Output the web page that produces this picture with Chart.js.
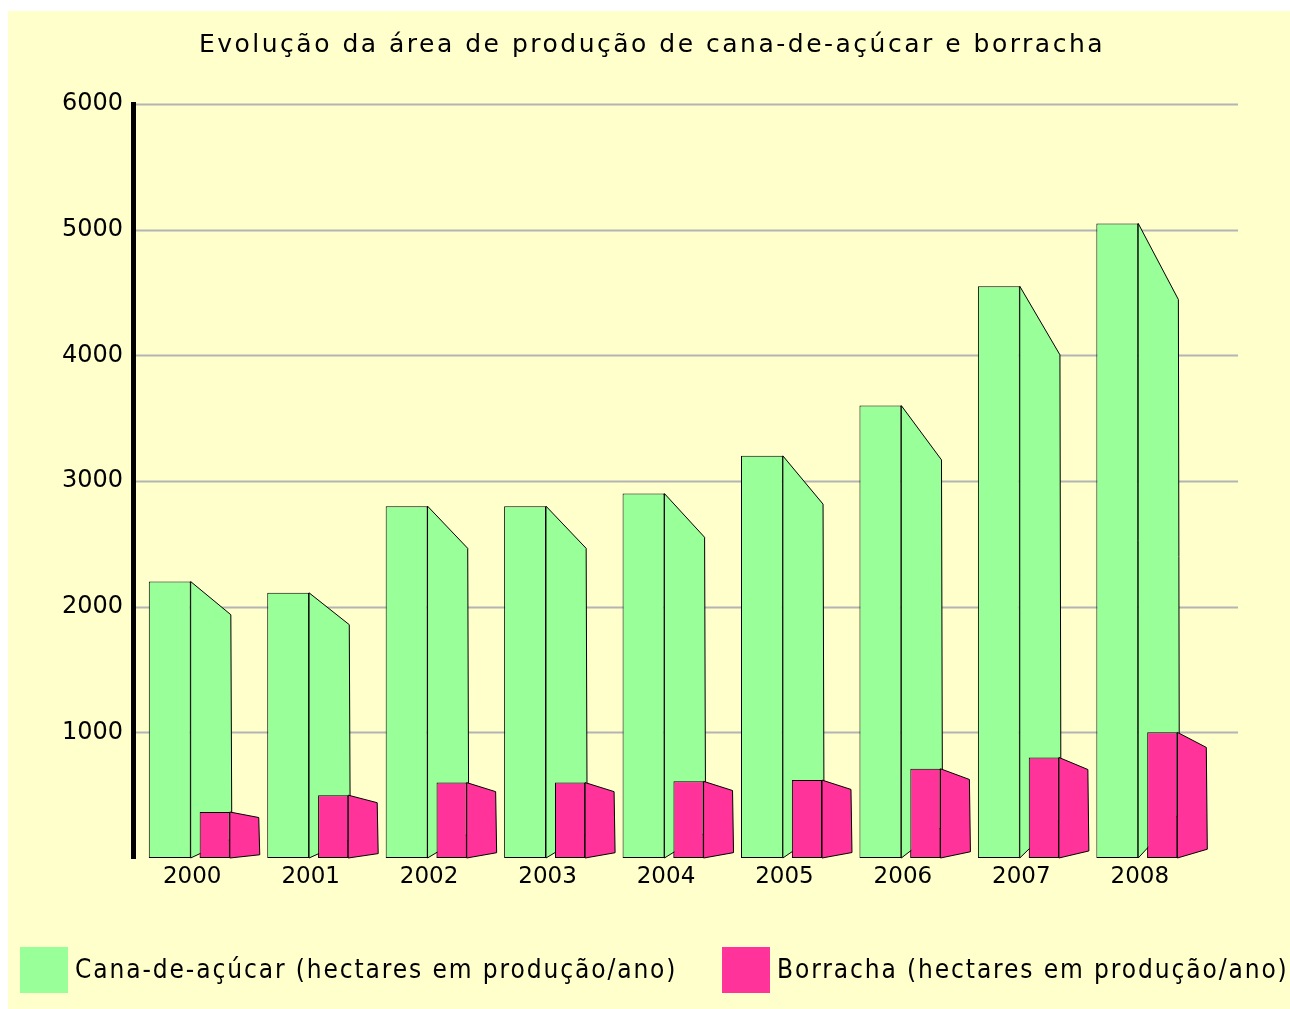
<!DOCTYPE html>
<html>
<head>
<meta charset="utf-8">
<script src="https://cdn.jsdelivr.net/npm/chart.js@4/dist/chart.umd.min.js"></script>
<style>
  body { margin: 0; background: #fff; }
  canvas { display: block; }
</style>
</head>
<body>
<canvas id="chart" width="1290" height="1009"></canvas>
<script>
const years = ['2000', '2001', '2002', '2003', '2004', '2005', '2006', '2007', '2008'];
const cana = [2200, 2110, 2800, 2800, 2900, 3200, 3600, 4550, 5050];
const borracha = [366, 500, 600, 600, 610, 620, 710, 800, 1000];
const yTicks = [0, 1000, 2000, 3000, 4000, 5000, 6000];

const titleText = 'Evolução da área de produção de cana-de-açúcar e borracha';
const canaLabel = 'Cana-de-açúcar (hectares em produção/ano)';
const borrachaLabel = 'Borracha (hectares em produção/ano)';

const GREEN = '#99FF99';
const PINK = '#FF3399';

function drawSides(ctx, meta, color) {
    ctx.save();
    ctx.fillStyle = color;
    ctx.strokeStyle = '#000';
    ctx.lineWidth = 1;
    ctx.lineJoin = 'round';
    meta.data.forEach(bar => {
        const p = bar.getProps(['x', 'y', 'base', 'width'], true);
        const h = p.base - p.y;
        const x0 = p.x + p.width / 2;
        const x1 = x0 + p.width * 0.96;
        ctx.beginPath();
        ctx.moveTo(x0, p.y);
        ctx.lineTo(x1, p.y + h * 0.12);
        ctx.lineTo(x1 + 1, p.base - h * 0.07);
        ctx.lineTo(x0, p.base);
        ctx.closePath();
        ctx.fill();
        ctx.stroke();
    });
    ctx.restore();
}

// yellow panel, grid lines, title, legend and the fake 3d sides
const decor = {
    id: 'decor',
    beforeDraw(chart) {
        const ctx = chart.ctx;
        ctx.save();
        ctx.fillStyle = '#FFFFCC';
        ctx.fillRect(8, 11, chart.width - 8, chart.height - 11);

        const y = chart.scales.y;
        ctx.strokeStyle = '#B4B4B4';
        ctx.lineWidth = 2;
        yTicks.forEach(v => {
            if (v === 0) return;
            const py = Math.round(y.getPixelForValue(v)) + 0.5;
            ctx.beginPath();
            ctx.moveTo(chart.chartArea.left, py);
            ctx.lineTo(1238, py);
            ctx.stroke();
        });

        ctx.fillStyle = '#000';
        ctx.font = '25px "DejaVu Sans"';
        ctx.letterSpacing = '2.5px';
        ctx.textAlign = 'center';
        ctx.textBaseline = 'middle';
        ctx.fillText(titleText, 652, 45);

        // legend
        ctx.textAlign = 'left';
        ctx.font = '26px "DejaVu Sans Condensed", "DejaVu Sans"';
        ctx.letterSpacing = '1.9px';
        const xs = [20, 722];
        chart.data.datasets.forEach((ds, i) => {
            ctx.fillStyle = ds.backgroundColor;
            ctx.fillRect(xs[i], 947, 48, 46);
            ctx.fillStyle = '#000';
            ctx.fillText(ds.label, xs[i] + 55, 971);
        });
        ctx.letterSpacing = '0px';
        ctx.restore();
    },
    afterDatasetsDraw(chart) {
        const ctx = chart.ctx;
        const greenMeta = chart.getDatasetMeta(0);
        const pinkMeta = chart.getDatasetMeta(1);
        drawSides(ctx, greenMeta, GREEN);
        // pink fronts sit in front of the green sides
        pinkMeta.data.forEach(bar => bar.draw(ctx));
        drawSides(ctx, pinkMeta, PINK);
    }
};

new Chart(document.getElementById('chart'), {
    type: 'bar',
    data: {
        labels: years,
        datasets: [{
            label: canaLabel,
            data: cana,
            backgroundColor: GREEN,
            borderColor: '#000',
            borderWidth: 1,
            borderSkipped: false,
            barPercentage: 0.93,
            categoryPercentage: 0.76
        }, {
            label: borrachaLabel,
            data: borracha,
            backgroundColor: PINK,
            borderColor: '#000',
            borderWidth: 1,
            borderSkipped: false,
            barPercentage: 0.67,
            categoryPercentage: 0.76
        }]
    },
    options: {
        responsive: false,
        animation: false,
        layout: {
            padding: { left: 8, right: 91, top: 104, bottom: 111 }
        },
        plugins: {
            legend: { display: false },
            title: { display: false },
            tooltip: { enabled: false }
        },
        scales: {
            x: {
                grid: { display: false, drawTicks: false },
                border: { display: false },
                ticks: {
                    color: '#000',
                    padding: 5,
                    font: { family: '"DejaVu Sans"', size: 23 }
                },
                afterFit: s => { s.height = 40; }
            },
            y: {
                min: 0,
                max: 6000,
                afterBuildTicks: s => { s.ticks = yTicks.map(v => ({ value: v })); },
                grid: { display: false, drawTicks: false },
                border: { display: true, color: '#000', width: 5 },
                ticks: {
                    color: '#000',
                    padding: 10,
                    font: { family: '"DejaVu Sans"', size: 24 },
                    callback: v => v === 0 ? '' : String(v)
                },
                afterFit: s => { s.width = 125; }
            }
        }
    },
    plugins: [decor]
});
</script>
</body>
</html>
